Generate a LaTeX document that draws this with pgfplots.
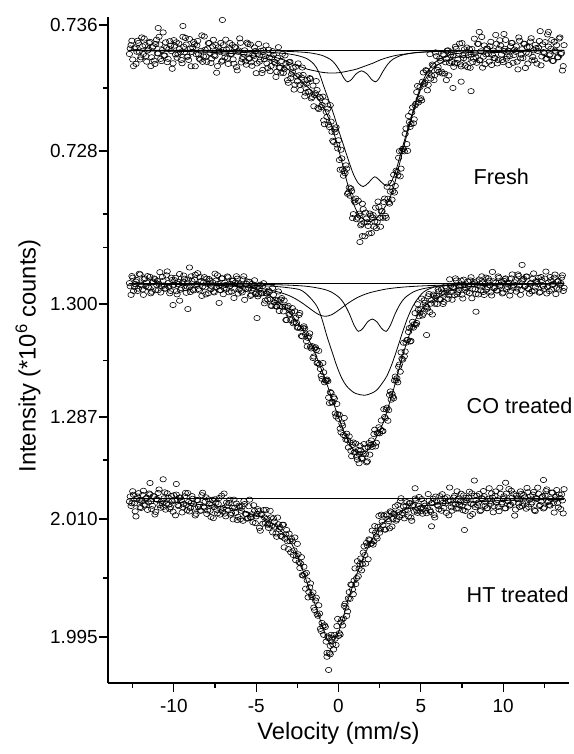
\documentclass[border=0pt]{standalone}
\usepackage{pgfplots}
\pgfplotsset{compat=1.18}
\usepackage{fontspec}
\setmainfont{Liberation Sans}
\pgfplotsset{
  mpanel/.style={
    scale only axis, width=345.75pt, anchor=south west,
    xmin=-14, xmax=14, clip=false,
    axis y line*=left,
    axis line style={-, line width=0.8pt},
    y axis line style={-},
    tick align=outside,
    major tick length=7pt, minor tick length=3.75pt,
    tick style={black, line width=0.8pt},
    yticklabel style={font=\fontsize{14.2}{16}\selectfont, inner xsep=0.6pt},
    xticklabel style={font=\fontsize{14.2}{16}\selectfont, yshift=-2pt},
    /pgf/number format/assume math mode=true,
  },
  datapts/.style={only marks, mark=o, mark size=2.0pt, mark options={xscale=1.2, line width=0.45pt, black}},
  fitline/.style={black, line width=0.6pt, smooth, tension=0.5, mark=none},
}
\begin{document}
\begin{tikzpicture}
\useasboundingbox (0,0) rectangle (430.5pt,565.5pt);
% ---------------- Fresh ----------------
\begin{axis}[mpanel, at={(81pt,385.5pt)}, height=167.25pt,
  ymin=0.722349, ymax=0.736508, axis x line=none, xtick=\empty,
  ytick={0.728,0.736}, yticklabels={0.728,0.736}, minor ytick={0.724,0.732}]
\addplot[datapts] table[row sep=\\]{x y\\
-12.7 0.73416\\ -12.6 0.73472\\ -12.5 0.73381\\ -12.4 0.73451\\ -12.3 0.73353\\ -12.2 0.73500\\ -12.1 0.73430\\ -12.0 0.73395\\ -11.9 0.73465\\ -11.8 0.73514\\
-11.7 0.73402\\ -11.6 0.73437\\ -11.5 0.73486\\ -11.4 0.73339\\ -11.3 0.73458\\ -11.2 0.73374\\ -11.1 0.73479\\ -11.0 0.73420\\ -10.9 0.73525\\ -10.8 0.73385\\
-10.7 0.73441\\ -10.6 0.73406\\ -10.5 0.73490\\ -10.4 0.73364\\ -10.3 0.73448\\ -10.2 0.73469\\ -10.1 0.73322\\ -10.0 0.73504\\ -9.9 0.73413\\ -9.8 0.73392\\
-9.7 0.73483\\ -9.6 0.73427\\ -9.5 0.73357\\ -9.4 0.73462\\ -9.3 0.73518\\ -9.2 0.73399\\ -9.1 0.73378\\ -9.0 0.73450\\ -8.9 0.73429\\ -8.8 0.73492\\
-8.7 0.73338\\ -8.6 0.73471\\ -8.5 0.73415\\ -8.4 0.73380\\ -8.3 0.73534\\ -8.2 0.73401\\ -8.1 0.73443\\ -8.0 0.73366\\ -7.9 0.73485\\ -7.8 0.73422\\
-7.7 0.73387\\ -7.6 0.73506\\ -7.5 0.73402\\ -7.4 0.73297\\ -7.3 0.73458\\ -7.2 0.73430\\ -7.1 0.73367\\ -7.0 0.73472\\ -6.9 0.73395\\ -6.8 0.73444\\
-6.7 0.73353\\ -6.6 0.73486\\ -6.5 0.73417\\ -6.4 0.73382\\ -6.3 0.73459\\ -6.2 0.73333\\ -6.1 0.73431\\ -6.0 0.73515\\ -5.9 0.73362\\ -5.8 0.73397\\
-5.7 0.73439\\ -5.6 0.73348\\ -5.5 0.73479\\ -5.4 0.73386\\ -5.3 0.73363\\ -5.2 0.73410\\ -5.1 0.73457\\ -5.0 0.73294\\ -4.9 0.73418\\ -4.8 0.73367\\
-4.7 0.73436\\ -4.6 0.73315\\ -4.5 0.73383\\ -4.4 0.73470\\ -4.3 0.73326\\ -4.2 0.73393\\ -4.1 0.73340\\ -4.0 0.73434\\ -3.9 0.73366\\ -3.8 0.73270\\
-3.7 0.73391\\ -3.6 0.73330\\ -3.5 0.73297\\ -3.4 0.73417\\ -3.3 0.73319\\ -3.2 0.73355\\ -3.1 0.73250\\ -3.0 0.73363\\ -2.9 0.73263\\ -2.8 0.73303\\
-2.7 0.73190\\ -2.6 0.73335\\ -2.5 0.73242\\ -2.4 0.73281\\ -2.3 0.73187\\ -2.2 0.73330\\ -2.1 0.73222\\ -2.0 0.73170\\ -1.9 0.73251\\ -1.8 0.73177\\
-1.7 0.73258\\ -1.6 0.73143\\ -1.5 0.73084\\ -1.4 0.73167\\ -1.3 0.73187\\ -1.2 0.73066\\ -1.1 0.73135\\ -1.0 0.73092\\ -0.9 0.72994\\ -0.8 0.73114\\
-0.7 0.73016\\ -0.6 0.72967\\ -0.5 0.73091\\ -0.4 0.72922\\ -0.3 0.72857\\ -0.2 0.72919\\ -0.1 0.72841\\ 0.0 0.72868\\ 0.1 0.72681\\ 0.2 0.72753\\
0.3 0.72643\\ 0.4 0.72659\\ 0.5 0.72688\\ 0.6 0.72536\\ 0.7 0.72516\\ 0.8 0.72545\\ 0.9 0.72399\\ 1.0 0.72474\\ 1.1 0.72367\\ 1.2 0.72484\\
1.3 0.72389\\ 1.4 0.72337\\ 1.5 0.72431\\ 1.6 0.72258\\ 1.7 0.72371\\ 1.8 0.72324\\ 1.9 0.72403\\ 2.0 0.72279\\ 2.1 0.72393\\ 2.2 0.72352\\
2.3 0.72310\\ 2.4 0.72479\\ 2.5 0.72375\\ 2.6 0.72417\\ 2.7 0.72376\\ 2.8 0.72498\\ 2.9 0.72375\\ 3.0 0.72497\\ 3.1 0.72466\\ 3.2 0.72597\\
3.3 0.72545\\ 3.4 0.72536\\ 3.5 0.72675\\ 3.6 0.72645\\ 3.7 0.72799\\ 3.8 0.72688\\ 3.9 0.72814\\ 4.0 0.72798\\ 4.1 0.72943\\ 4.2 0.72801\\
4.3 0.72984\\ 4.4 0.72971\\ 4.5 0.73077\\ 4.6 0.73001\\ 4.7 0.73100\\ 4.8 0.73213\\ 4.9 0.73129\\ 5.0 0.73135\\ 5.1 0.73240\\ 5.2 0.73224\\
5.3 0.73313\\ 5.4 0.73185\\ 5.5 0.73296\\ 5.6 0.73260\\ 5.7 0.73349\\ 5.8 0.73250\\ 5.9 0.73426\\ 6.0 0.73315\\ 6.1 0.73301\\ 6.2 0.73372\\
6.3 0.73292\\ 6.4 0.73408\\ 6.5 0.73363\\ 6.6 0.73437\\ 6.7 0.73280\\ 6.8 0.73410\\ 6.9 0.73365\\ 7.0 0.73334\\ 7.1 0.73462\\ 7.2 0.73359\\
7.3 0.73418\\ 7.4 0.73350\\ 7.5 0.73485\\ 7.6 0.73389\\ 7.7 0.73342\\ 7.8 0.73457\\ 7.9 0.73410\\ 8.0 0.73328\\ 8.1 0.73448\\ 8.2 0.73386\\
8.3 0.73422\\ 8.4 0.73360\\ 8.5 0.73480\\ 8.6 0.73376\\ 8.7 0.73524\\ 8.8 0.73399\\ 8.9 0.73351\\ 9.0 0.73450\\ 9.1 0.73415\\ 9.2 0.73465\\
9.3 0.73346\\ 9.4 0.73438\\ 9.5 0.73390\\ 9.6 0.73481\\ 9.7 0.73377\\ 9.8 0.73503\\ 9.9 0.73413\\ 10.0 0.73364\\ 10.1 0.73449\\ 10.2 0.73386\\
10.3 0.73437\\ 10.4 0.73402\\ 10.5 0.73486\\ 10.6 0.73360\\ 10.7 0.73444\\ 10.8 0.73465\\ 10.9 0.73318\\ 11.0 0.73500\\ 11.1 0.73411\\ 11.2 0.73390\\
11.3 0.73481\\ 11.4 0.73425\\ 11.5 0.73355\\ 11.6 0.73460\\ 11.7 0.73516\\ 11.8 0.73397\\ 11.9 0.73376\\ 12.0 0.73453\\ 12.1 0.73435\\ 12.2 0.73498\\
12.3 0.73344\\ 12.4 0.73477\\ 12.5 0.73421\\ 12.6 0.73386\\ 12.7 0.73540\\ 12.8 0.73407\\ 12.9 0.73449\\ 13.0 0.73372\\ 13.1 0.73493\\ 13.2 0.73430\\
13.3 0.73395\\ 13.4 0.73514\\ 13.5 0.73416\\ 13.6 0.73311\\ 13.7 0.73472\\
-7.05 0.73632\\ -10.95 0.73581\\ -9.45 0.73594\\ 8.55 0.73556\\ 10.05 0.73543\\ 12.75 0.73556\\ 1.3 0.72222\\ 1.45 0.72260\\
8.05 0.73180\\ 6.55 0.73250\\ 7.45 0.73240\\ 6.95 0.73200\\
-12.65 0.73451\\ -12.55 0.73500\\ -12.45 0.73339\\ -12.35 0.73458\\ -12.25 0.73430\\ -12.15 0.73486\\ -12.05 0.73381\\ -11.95 0.73521\\ -11.85 0.73416\\ -11.75 0.73472\\
-11.65 0.73367\\ -11.55 0.73444\\ -11.45 0.73493\\ -11.35 0.73395\\ -11.25 0.73465\\ -11.15 0.73353\\ -11.05 0.73507\\ -10.95 0.73420\\ -10.85 0.73476\\ -10.75 0.73371\\
-10.65 0.73553\\ -10.55 0.73406\\ -10.45 0.73455\\ -10.35 0.73385\\ -10.25 0.73497\\ -10.15 0.73434\\ -10.05 0.73357\\ -9.95 0.73469\\ -9.85 0.73490\\ -9.75 0.73413\\
-9.65 0.73448\\ -9.55 0.73378\\ -9.45 0.73525\\ -9.35 0.73427\\ -9.25 0.73476\\ -9.15 0.73399\\ -9.05 0.73511\\ -8.95 0.73338\\ -8.85 0.73457\\ -8.75 0.73478\\
-8.65 0.73415\\ -8.55 0.73499\\ -8.45 0.73387\\ -8.35 0.73436\\ -8.25 0.73366\\ -8.15 0.73527\\ -8.05 0.73401\\ -7.95 0.73450\\ -7.85 0.73485\\ -7.75 0.73359\\
-7.65 0.73464\\ -7.55 0.73408\\ -7.45 0.73472\\ -7.35 0.73339\\ -7.25 0.73437\\ -7.15 0.73486\\ -7.05 0.73374\\ -6.95 0.73423\\ -6.85 0.73507\\ -6.75 0.73388\\
-6.65 0.73451\\ -6.55 0.73416\\ -6.45 0.73473\\ -6.35 0.73354\\ -6.25 0.73459\\ -6.15 0.73312\\ -6.05 0.73438\\ -5.95 0.73487\\ -5.85 0.73383\\ -5.75 0.73418\\
-5.65 0.73369\\ -5.55 0.73488\\
-5.45 0.73387\\ -5.35 0.73476\\ -5.25 0.73341\\ -5.15 0.73402\\ -5.05 0.73435\\ -4.95 0.73356\\ -4.85 0.73480\\ -4.75 0.73381\\ -4.65 0.73295\\ -4.55 0.73440\\
-4.45 0.73402\\ -4.35 0.73356\\ -4.25 0.73444\\ -4.15 0.73307\\ -4.05 0.73394\\ -3.95 0.73411\\ -3.85 0.73357\\ -3.75 0.73303\\ -3.65 0.73459\\ -3.55 0.73328\\
-3.45 0.73371\\ -3.35 0.73295\\ -3.25 0.73407\\ -3.15 0.73331\\ -3.05 0.73233\\ -2.95 0.73366\\ -2.85 0.73287\\ -2.75 0.73327\\ -2.65 0.73221\\ -2.55 0.73275\\
-2.45 0.73356\\ -2.35 0.73220\\ -2.25 0.73266\\ -2.15 0.73283\\ -2.05 0.73147\\ -1.95 0.73228\\ -1.85 0.73176\\ -1.75 0.73263\\ -1.65 0.73134\\ -1.55 0.73215\\
-1.45 0.73154\\ -1.35 0.73244\\ -1.25 0.73074\\ -1.15 0.73143\\ -1.05 0.73079\\ -0.95 0.73145\\ -0.85 0.72970\\ -0.75 0.73048\\ -0.65 0.73069\\ -0.55 0.72952\\
-0.45 0.72986\\ -0.35 0.72865\\ -0.25 0.72937\\ -0.15 0.72950\\ -0.05 0.72816\\ 0.05 0.72743\\ 0.15 0.72808\\ 0.25 0.72684\\ 0.35 0.72672\\ 0.45 0.72709\\
0.55 0.72528\\ 0.65 0.72568\\ 0.75 0.72562\\ 0.85 0.72374\\ 0.95 0.72486\\ 1.05 0.72498\\ 1.15 0.72377\\ 1.25 0.72402\\ 1.35 0.72328\\ 1.45 0.72465\\
1.55 0.72345\\ 1.65 0.72409\\ 1.75 0.72348\\ 1.85 0.72276\\ 1.95 0.72390\\ 2.05 0.72378\\ 2.15 0.72320\\ 2.25 0.72440\\ 2.35 0.72349\\ 2.45 0.72445\\
2.55 0.72319\\ 2.65 0.72418\\ 2.75 0.72476\\ 2.85 0.72388\\ 2.95 0.72573\\ 3.05 0.72475\\ 3.15 0.72542\\ 3.25 0.72491\\ 3.35 0.72649\\ 3.45 0.72578\\
3.55 0.72667\\ 3.65 0.72757\\ 3.75 0.72639\\ 3.85 0.72800\\ 3.95 0.72813\\ 4.05 0.72909\\ 4.15 0.72844\\ 4.25 0.73022\\ 4.35 0.72953\\ 4.45 0.73045\\
4.55 0.72976\\ 4.65 0.73089\\ 4.75 0.73174\\ 4.85 0.73108\\ 4.95 0.73206\\ 5.05 0.73121\\ 5.15 0.73299\\ 5.25 0.73234\\ 5.35 0.73309\\ 5.45 0.73220\\
5.55 0.73415\\ 5.65 0.73280\\ 5.75 0.73342\\ 5.85 0.73282\\ 5.95 0.73402\\
6.05 0.73333\\ 6.15 0.73389\\ 6.25 0.73304\\ 6.35 0.73413\\ 6.45 0.73291\\ 6.55 0.73386\\ 6.65 0.73439\\ 6.75 0.73359\\ 6.85 0.73426\\ 6.95 0.73409\\
7.05 0.73356\\ 7.15 0.73449\\ 7.25 0.73381\\ 7.35 0.73482\\ 7.45 0.73337\\ 7.55 0.73409\\ 7.65 0.73446\\ 7.75 0.73379\\ 7.85 0.73332\\ 7.95 0.73446\\
8.05 0.73413\\ 8.15 0.73365\\ 8.25 0.73513\\ 8.35 0.73395\\ 8.45 0.73480\\ 8.55 0.73376\\ 8.65 0.73433\\ 8.75 0.73329\\ 8.85 0.73470\\ 8.95 0.73414\\
9.05 0.73450\\ 9.15 0.73367\\ 9.25 0.73493\\ 9.35 0.73410\\ 9.45 0.73390\\ 9.55 0.73537\\ 9.65 0.73356\\ 9.75 0.73447\\ 9.85 0.73469\\ 9.95 0.73378\\
10.05 0.73435\\ 10.15 0.73505\\ 10.25 0.73400\\ 10.35 0.73346\\ 10.45 0.73465\\ 10.55 0.73486\\ 10.65 0.73409\\ 10.75 0.73430\\ 10.85 0.73367\\ 10.95 0.73521\\
11.05 0.73388\\ 11.15 0.73446\\ 11.25 0.73481\\ 11.35 0.73327\\ 11.45 0.73460\\ 11.55 0.73418\\ 11.65 0.73495\\ 11.75 0.73376\\ 11.85 0.73439\\ 11.95 0.73474\\
12.05 0.73355\\ 12.15 0.73456\\ 12.25 0.73561\\ 12.35 0.73400\\ 12.45 0.73428\\ 12.55 0.73491\\ 12.65 0.73386\\ 12.75 0.73463\\ 12.85 0.73414\\ 12.95 0.73505\\
13.05 0.73372\\ 13.15 0.73437\\ 13.25 0.73472\\ 13.35 0.73395\\ 13.45 0.73521\\ 13.55 0.73423\\ 13.65 0.73339\\
};
\addplot[black, line width=0.6pt] coordinates {(-12.7,0.73441) (13.7,0.73441)};
% singlet
\addplot[fitline] coordinates {(-12.7,0.73438) (-8.4,0.73435) (-6.4,0.73430) (-5.4,0.73423) (-4.4,0.73409) (-3.4,0.73381) (-2.9,0.73358) (-2.4,0.73339) (-1.9,0.73320) (-1.4,0.73308) (-0.9,0.73298) (-0.4,0.73295) (0.1,0.73298) (0.6,0.73308) (1.1,0.73320) (1.6,0.73339) (2.1,0.73358) (2.6,0.73381) (3.1,0.73397) (3.6,0.73409) (4.6,0.73423) (5.6,0.73430) (7.6,0.73435) (11.6,0.73438) (13.7,0.73439)};
% small doublet
\addplot[fitline] coordinates {(-12.7,0.73440) (-5,0.73438) (-3,0.73432) (-2,0.73426) (-1.5,0.73419) (-1,0.73407) (-0.5,0.73382) (-0.2,0.73352) (0.1,0.73305) (0.35,0.73259) (0.55,0.73239) (0.8,0.73255) (1.05,0.73288) (1.4,0.73309) (1.75,0.73288) (2.0,0.73255) (2.25,0.73239) (2.45,0.73259) (2.7,0.73305) (3.0,0.73352) (3.3,0.73382) (3.8,0.73407) (4.3,0.73419) (4.8,0.73426) (5.8,0.73432) (7.8,0.73438) (13.7,0.73440)};
% big doublet
\addplot[fitline] coordinates {(-12.7,0.73439) (-8,0.73436) (-5,0.73431) (-3,0.73416) (-2,0.73390) (-1.5,0.73352) (-1.2,0.73301) (-0.9,0.73212) (-0.6,0.73124) (-0.3,0.73035) (0,0.72933) (0.3,0.72838) (0.6,0.72743) (0.9,0.72654) (1.2,0.72596) (1.5,0.72574) (1.8,0.72596) (2.2,0.72636) (2.6,0.72603) (2.93,0.72577) (3.2,0.72603) (3.5,0.72679) (3.8,0.72793) (4.1,0.72901) (4.4,0.73009) (4.7,0.73117) (5.0,0.73212) (5.3,0.73282) (5.7,0.73346) (6.2,0.73387) (7,0.73416) (8.5,0.73428) (11,0.73435) (13.7,0.73438)};
% total
\addplot[fitline] coordinates {(-12.7,0.73438) (-11,0.73435) (-9,0.73431) (-7.5,0.73425) (-6.5,0.73419) (-5.5,0.73409) (-4.5,0.73390) (-4.0,0.73371) (-3.5,0.73346) (-3.0,0.73314) (-2.5,0.73270) (-2.0,0.73219) (-1.5,0.73168) (-1.0,0.73092) (-0.6,0.73009) (-0.3,0.72920) (0,0.72812) (0.3,0.72692) (0.6,0.72571) (0.9,0.72469) (1.2,0.72400) (1.5,0.72368) (1.8,0.72352) (2.1,0.72358) (2.4,0.72381) (2.7,0.72425) (3.0,0.72476) (3.3,0.72552) (3.6,0.72673) (3.9,0.72800) (4.2,0.72920) (4.5,0.73028) (4.8,0.73136) (5.1,0.73219) (5.4,0.73276) (5.8,0.73327) (6.2,0.73358) (7.0,0.73390) (8.0,0.73412) (9.0,0.73422) (10.5,0.73430) (12,0.73435) (13.7,0.73438)};
\end{axis}
% ---------------- CO treated ----------------
\begin{axis}[mpanel, at={(81pt,224.25pt)}, height=161.25pt,
  ymin=1.282628, ymax=1.307363, axis x line=none, xtick=\empty,
  ytick={1.287,1.300}, yticklabels={1.287,1.300}, minor ytick={1.2935,1.3065}]
\addplot[datapts] table[row sep=\\]{x y\\
-12.7 1.30240\\ -12.6 1.30105\\ -12.5 1.30303\\ -12.4 1.30195\\ -12.3 1.30258\\ -12.2 1.30150\\ -12.1 1.30348\\ -12.0 1.30222\\ -11.9 1.30168\\ -11.8 1.30285\\
-11.7 1.30204\\ -11.6 1.30321\\ -11.5 1.30186\\ -11.4 1.30123\\ -11.3 1.30249\\ -11.2 1.30294\\ -11.1 1.30159\\ -11.0 1.30267\\ -10.9 1.30231\\ -10.8 1.30132\\
-10.7 1.30312\\ -10.6 1.30213\\ -10.5 1.30177\\ -10.4 1.30375\\ -10.3 1.30195\\ -10.2 1.30150\\ -10.1 1.30276\\ -10.0 1.30222\\ -9.9 1.30300\\ -9.8 1.30111\\
-9.7 1.30255\\ -9.6 1.30165\\ -9.5 1.30237\\ -9.4 1.30327\\ -9.3 1.30183\\ -9.2 1.30201\\ -9.1 1.30282\\ -9.0 1.30138\\ -8.9 1.30264\\ -8.8 1.30156\\
-8.7 1.30336\\ -8.6 1.30228\\ -8.5 1.30174\\ -8.4 1.30309\\ -8.3 1.30093\\ -8.2 1.30246\\ -8.1 1.30192\\ -8.0 1.30291\\ -7.9 1.30124\\ -7.8 1.30268\\
-7.7 1.30205\\ -7.6 1.30142\\ -7.5 1.30349\\ -7.4 1.30196\\ -7.3 1.30232\\ -7.2 1.30160\\ -7.1 1.30295\\ -7.0 1.30113\\ -6.9 1.30247\\ -6.8 1.30174\\
-6.7 1.30307\\ -6.6 1.30207\\ -6.5 1.30143\\ -6.4 1.30268\\ -6.3 1.30177\\ -6.2 1.30319\\ -6.1 1.30120\\ -6.0 1.30227\\ -5.9 1.30152\\ -5.8 1.30284\\
-5.7 1.30048\\ -5.6 1.30234\\ -5.5 1.30169\\ -5.4 1.30256\\ -5.3 1.30107\\ -5.2 1.30181\\ -5.1 1.30273\\ -5.0 1.30122\\ -4.9 1.30088\\ -4.8 1.30180\\
-4.7 1.30128\\ -4.6 1.30208\\ -4.5 1.30008\\ -4.4 1.30124\\ -4.3 1.30051\\ -4.2 1.30139\\ -4.1 1.29983\\ -4.0 1.30185\\ -3.9 1.30017\\ -3.8 1.29976\\
-3.7 1.30043\\ -3.6 1.29920\\ -3.5 1.30050\\ -3.4 1.29969\\ -3.3 1.30041\\ -3.2 1.29816\\ -3.1 1.29960\\ -3.0 1.29879\\ -2.9 1.29814\\ -2.8 1.29952\\
-2.7 1.29793\\ -2.6 1.29841\\ -2.5 1.29727\\ -2.4 1.29874\\ -2.3 1.29719\\ -2.2 1.29627\\ -2.1 1.29743\\ -2.0 1.29651\\ -1.9 1.29512\\ -1.8 1.29627\\
-1.7 1.29508\\ -1.6 1.29515\\ -1.5 1.29396\\ -1.4 1.29502\\ -1.3 1.29320\\ -1.2 1.29461\\ -1.1 1.29252\\ -1.0 1.29139\\ -0.9 1.29214\\ -0.8 1.29119\\
-0.7 1.29131\\ -0.6 1.28923\\ -0.5 1.28986\\ -0.4 1.28868\\ -0.3 1.28930\\ -0.2 1.28741\\ -0.1 1.28850\\ 0.0 1.28679\\ 0.1 1.28566\\ 0.2 1.28625\\
0.3 1.28494\\ 0.4 1.28479\\ 0.5 1.28508\\ 0.6 1.28349\\ 0.7 1.28407\\ 0.8 1.28250\\ 0.9 1.28407\\ 1.0 1.28301\\ 1.1 1.28243\\ 1.2 1.28319\\
1.3 1.28368\\ 1.4 1.28226\\ 1.5 1.28277\\ 1.6 1.28346\\ 1.7 1.28179\\ 1.8 1.28353\\ 1.9 1.28267\\ 2.0 1.28430\\ 2.1 1.28389\\ 2.2 1.28554\\
2.3 1.28404\\ 2.4 1.28516\\ 2.5 1.28512\\ 2.6 1.28660\\ 2.7 1.28538\\ 2.8 1.28700\\ 2.9 1.28786\\ 3.0 1.28657\\ 3.1 1.28954\\ 3.2 1.28899\\
3.3 1.28935\\ 3.4 1.29120\\ 3.5 1.29119\\ 3.6 1.29099\\ 3.7 1.29303\\ 3.8 1.29444\\ 3.9 1.29360\\ 4.0 1.29397\\ 4.1 1.29555\\ 4.2 1.29587\\
4.3 1.29723\\ 4.4 1.29575\\ 4.5 1.29795\\ 4.6 1.29767\\ 4.7 1.29761\\ 4.8 1.29998\\ 4.9 1.29859\\ 5.0 1.29940\\ 5.1 1.29868\\ 5.2 1.30042\\
5.3 1.29976\\ 5.4 1.29946\\ 5.5 1.30115\\ 5.6 1.30004\\ 5.7 1.29879\\ 5.8 1.30096\\ 5.9 1.30071\\ 6.0 1.30000\\ 6.1 1.30145\\ 6.2 1.30056\\
6.3 1.30130\\ 6.4 1.30024\\ 6.5 1.30205\\ 6.6 1.30135\\ 6.7 1.30101\\ 6.8 1.30206\\ 6.9 1.30049\\ 7.0 1.30181\\ 7.1 1.30295\\ 7.2 1.30112\\
7.3 1.30162\\ 7.4 1.30222\\ 7.5 1.30107\\ 7.6 1.30280\\ 7.7 1.30165\\ 7.8 1.30140\\ 7.9 1.30206\\ 8.0 1.30271\\ 8.1 1.30066\\ 8.2 1.30230\\
8.3 1.30169\\ 8.4 1.30261\\ 8.5 1.30110\\ 8.6 1.30201\\ 8.7 1.30318\\ 8.8 1.30139\\ 8.9 1.30230\\ 9.0 1.30168\\ 9.1 1.30295\\ 9.2 1.30214\\
9.3 1.30098\\ 9.4 1.30261\\ 9.5 1.30190\\ 9.6 1.30155\\ 9.7 1.30317\\ 9.8 1.30201\\ 9.9 1.30256\\ 10.0 1.30131\\ 10.1 1.30286\\ 10.2 1.30169\\
10.3 1.30232\\ 10.4 1.30097\\ 10.5 1.30295\\ 10.6 1.30187\\ 10.7 1.30250\\ 10.8 1.30142\\ 10.9 1.30340\\ 11.0 1.30214\\ 11.1 1.30163\\ 11.2 1.30280\\
11.3 1.30199\\ 11.4 1.30316\\ 11.5 1.30181\\ 11.6 1.30118\\ 11.7 1.30244\\ 11.8 1.30289\\ 11.9 1.30154\\ 12.0 1.30262\\ 12.1 1.30229\\ 12.2 1.30130\\
12.3 1.30310\\ 12.4 1.30211\\ 12.5 1.30175\\ 12.6 1.30373\\ 12.7 1.30193\\ 12.8 1.30148\\ 12.9 1.30274\\ 13.0 1.30220\\ 13.1 1.30303\\ 13.2 1.30114\\
13.3 1.30258\\ 13.4 1.30168\\ 13.5 1.30240\\ 13.6 1.30330\\ 13.7 1.30186\\
1.25 1.28168\\ -9.05 1.30420\\ 11.15 1.30450\\ -9.15 1.29942\\ -4.95 1.29838\\ -7.25 1.30012\\ -10.05 1.29988\\ -9.65 1.30038\\ 5.35 1.29643\\ 8.35 1.29911\\
-12.65 1.30204\\ -12.55 1.30321\\ -12.45 1.30150\\ -12.35 1.30231\\ -12.25 1.30276\\ -12.15 1.30177\\ -12.05 1.30339\\ -11.95 1.30213\\ -11.85 1.30105\\ -11.75 1.30294\\
-11.65 1.30249\\ -11.55 1.30195\\ -11.45 1.30312\\ -11.35 1.30141\\ -11.25 1.30258\\ -11.15 1.30285\\ -11.05 1.30222\\ -10.95 1.30159\\ -10.85 1.30366\\ -10.75 1.30204\\
-10.65 1.30267\\ -10.55 1.30177\\ -10.45 1.30330\\ -10.35 1.30240\\ -10.25 1.30123\\ -10.15 1.30303\\ -10.05 1.30213\\ -9.95 1.30273\\ -9.85 1.30147\\ -9.75 1.30228\\
-9.65 1.30345\\ -9.55 1.30183\\ -9.45 1.30255\\ -9.35 1.30291\\ -9.25 1.30129\\ -9.15 1.30246\\ -9.05 1.30192\\ -8.95 1.30318\\ -8.85 1.30165\\ -8.75 1.30282\\
-8.65 1.30219\\ -8.55 1.30354\\ -8.45 1.30156\\ -8.35 1.30264\\ -8.25 1.30201\\ -8.15 1.30309\\ -8.05 1.30111\\ -7.95 1.30232\\ -7.85 1.30286\\ -7.75 1.30169\\
-7.65 1.30250\\ -7.55 1.30133\\ -7.45 1.30268\\ -7.35 1.30331\\ -7.25 1.30205\\ -7.15 1.30160\\ -7.05 1.30295\\ -6.95 1.30184\\ -6.85 1.30219\\ -6.75 1.30317\\
-6.65 1.30135\\ -6.55 1.30233\\ -6.45 1.30268\\ -6.35 1.30069\\ -6.25 1.30248\\ -6.15 1.30291\\ -6.05 1.30164\\ -5.95 1.30216\\ -5.85 1.30133\\ -5.75 1.30319\\
-5.65 1.30172\\ -5.55 1.30260\\ -5.45 1.30185\\ -5.35 1.30093\\ -5.25 1.30230\\ -5.15 1.30205\\ -5.05 1.30117\\
-4.95 1.30191\\ -4.85 1.30112\\ -4.75 1.30222\\ -4.65 1.30123\\ -4.55 1.30239\\ -4.45 1.30039\\ -4.35 1.30119\\ -4.25 1.30154\\ -4.15 1.30052\\ -4.05 1.29976\\
-3.95 1.30106\\ -3.85 1.30046\\ -3.75 1.29969\\ -3.65 1.30144\\ -3.55 1.29976\\ -3.45 1.30068\\ -3.35 1.29915\\ -3.25 1.29969\\ -3.15 1.29816\\ -3.05 1.29978\\
-2.95 1.29887\\ -2.85 1.29910\\ -2.75 1.29778\\ -2.65 1.29916\\ -2.55 1.29784\\ -2.45 1.29733\\ -2.35 1.29896\\ -2.25 1.29633\\ -2.15 1.29721\\ -2.05 1.29720\\
-1.95 1.29573\\ -1.85 1.29610\\ -1.75 1.29662\\ -1.65 1.29489\\ -1.55 1.29379\\ -1.45 1.29490\\ -1.35 1.29470\\ -1.25 1.29323\\ -1.15 1.29303\\ -1.05 1.29173\\
-0.95 1.29321\\ -0.85 1.29099\\ -0.75 1.29121\\ -0.65 1.29113\\ -0.55 1.28860\\ -0.45 1.28977\\ -0.35 1.28868\\ -0.25 1.28912\\ -0.15 1.28706\\ -0.05 1.28733\\
0.05 1.28726\\ 0.15 1.28524\\ 0.25 1.28600\\ 0.35 1.28689\\ 0.45 1.28440\\ 0.55 1.28433\\ 0.65 1.28477\\ 0.75 1.28311\\ 0.85 1.28378\\ 0.95 1.28291\\
1.05 1.28394\\ 1.15 1.28209\\ 1.25 1.28276\\ 1.35 1.28315\\ 1.45 1.28220\\ 1.55 1.28388\\ 1.65 1.28276\\ 1.75 1.28190\\ 1.85 1.28400\\ 1.95 1.28380\\
2.05 1.28356\\ 2.15 1.28503\\ 2.25 1.28362\\ 2.35 1.28514\\ 2.45 1.28582\\ 2.55 1.28559\\ 2.65 1.28536\\ 2.75 1.28790\\ 2.85 1.28685\\ 2.95 1.28807\\
3.05 1.28779\\ 3.15 1.28994\\ 3.25 1.28967\\ 3.35 1.28915\\ 3.45 1.29165\\ 3.55 1.29145\\ 3.65 1.29278\\ 3.75 1.29221\\ 3.85 1.29371\\ 3.95 1.29554\\
4.05 1.29454\\ 4.15 1.29585\\ 4.25 1.29678\\ 4.35 1.29568\\ 4.45 1.29735\\ 4.55 1.29727\\ 4.65 1.29895\\ 4.75 1.29781\\ 4.85 1.29933\\ 4.95 1.29900\\
5.05 1.30062\\ 5.15 1.29888\\ 5.25 1.30014\\ 5.35 1.29966\\ 5.45 1.30089\\ 5.55 1.29907\\ 5.65 1.30045\\ 5.75 1.30109\\ 5.85 1.30003\\ 5.95 1.30094\\
6.05 1.30167\\ 6.15 1.30051\\ 6.25 1.30169\\ 6.35 1.30000\\ 6.45 1.30119\\ 6.55 1.30184\\ 6.65 1.30060\\ 6.75 1.30284\\ 6.85 1.30137\\ 6.95 1.30196\\
7.05 1.30103\\ 7.15 1.30271\\ 7.25 1.30132\\ 7.35 1.30201\\ 7.45 1.30268\\ 7.55 1.30063\\ 7.65 1.30218\\ 7.75 1.30184\\ 7.85 1.30259\\ 7.95 1.30126\\
8.05 1.30308\\ 8.15 1.30175\\ 8.25 1.30249\\ 8.35 1.30116\\ 8.45 1.30217\\ 8.55 1.30282\\ 8.65 1.30157\\ 8.75 1.30248\\ 8.85 1.30104\\ 8.95 1.30303\\
9.05 1.30196\\ 9.15 1.30269\\ 9.25 1.30134\\ 9.35 1.30369\\ 9.45 1.30181\\ 9.55 1.30245\\ 9.65 1.30155\\ 9.75 1.30300\\ 9.85 1.30220\\ 9.95 1.30121\\
10.05 1.30266\\ 10.15 1.30295\\ 10.25 1.30196\\ 10.35 1.30241\\ 10.45 1.30151\\ 10.55 1.30340\\ 10.65 1.30214\\ 10.75 1.30277\\ 10.85 1.30178\\ 10.95 1.30322\\
11.05 1.30106\\ 11.15 1.30262\\ 11.25 1.30289\\ 11.35 1.30208\\ 11.45 1.30316\\ 11.55 1.30172\\ 11.65 1.30235\\ 11.75 1.30145\\ 11.85 1.30352\\ 11.95 1.30190\\
12.05 1.30253\\ 12.15 1.30301\\ 12.25 1.30139\\ 12.35 1.30274\\ 12.45 1.30202\\ 12.55 1.30292\\ 12.65 1.30121\\ 12.75 1.30247\\ 12.85 1.30310\\ 12.95 1.30166\\
13.05 1.30229\\ 13.15 1.30339\\ 13.25 1.30186\\ 13.35 1.30267\\ 13.45 1.30222\\ 13.55 1.30303\\ 13.65 1.30150\\
};
\addplot[black, line width=0.6pt] coordinates {(-12.7,1.30238) (13.7,1.30238)};
% singlet
\addplot[fitline] coordinates {(-12.7,1.30230) (-9,1.30222) (-7,1.30211) (-5.5,1.30194) (-4.5,1.30172) (-3.5,1.30130) (-2.8,1.30079) (-2.2,1.30011) (-1.6,1.29928) (-1.2,1.29878) (-0.8,1.29858) (-0.4,1.29878) (0,1.29928) (0.6,1.30011) (1.2,1.30079) (1.9,1.30130) (2.9,1.30172) (3.9,1.30194) (5.4,1.30211) (7.4,1.30222) (11.1,1.30230) (13.7,1.30233)};
% doublet
\addplot[fitline] coordinates {(-12.7,1.30236) (-6,1.30230) (-3.45,1.30220) (-1.95,1.30204) (-0.95,1.30172) (-0.45,1.30139) (0.05,1.30074) (0.35,1.30001) (0.65,1.29892) (0.95,1.29755) (1.21,1.29685) (1.5,1.29723) (1.75,1.29791) (2.05,1.29827) (2.35,1.29791) (2.6,1.29723) (2.89,1.29685) (3.15,1.29755) (3.45,1.29892) (3.75,1.30001) (4.05,1.30074) (4.55,1.30139) (5.05,1.30172) (6.05,1.30204) (7.55,1.30220) (10.05,1.30230) (13.7,1.30236)};
% big component
\addplot[fitline] coordinates {(-12.7,1.30235) (-8,1.30229) (-6,1.30221) (-4,1.30204) (-3,1.30186) (-2.3,1.30161) (-1.8,1.30088) (-1.31,1.29974) (-1.0,1.29824) (-0.7,1.29628) (-0.4,1.29456) (-0.1,1.29284) (0.2,1.29146) (0.5,1.29054) (0.9,1.28985) (1.2,1.28962) (1.6,1.28950) (2.0,1.28973) (2.33,1.29011) (2.65,1.29088) (2.93,1.29169) (3.24,1.29307) (3.54,1.29471) (3.85,1.29652) (4.15,1.29816) (4.45,1.29950) (4.75,1.30046) (5.05,1.30117) (5.36,1.30161) (6,1.30204) (7,1.30221) (9,1.30230) (13.7,1.30235)};
% total
\addplot[fitline] coordinates {(-12.7,1.30232) (-9,1.30229) (-7,1.30221) (-6,1.30209) (-5.35,1.30192) (-4.7,1.30146) (-4.14,1.30088) (-3.5,1.29996) (-2.93,1.29893) (-2.4,1.29766) (-1.92,1.29628) (-1.5,1.29468) (-1.11,1.29284) (-0.7,1.29077) (-0.3,1.28858) (0,1.28697) (0.3,1.28548) (0.6,1.28421) (0.91,1.28323) (1.32,1.28266) (1.6,1.28283) (1.92,1.28352) (2.3,1.28467) (2.73,1.28640) (3.0,1.28801) (3.33,1.29008) (3.64,1.29226) (3.94,1.29433) (4.25,1.29617) (4.55,1.29766) (4.85,1.29882) (5.15,1.29962) (5.6,1.30031) (6.16,1.30088) (6.7,1.30146) (7.4,1.30186) (8.5,1.30209) (10,1.30221) (12,1.30229) (13.7,1.30232)};
\end{axis}
% ---------------- HT treated ----------------
\begin{axis}[mpanel, at={(81pt,53.25pt)}, height=171pt,
  ymin=1.989153, ymax=2.018135,
  axis x line*=bottom, x axis line style={-},
  xtick={-10,-5,0,5,10}, xticklabels={-10,-5,0,5,10},
  minor xtick={-12.5,-7.5,-2.5,2.5,7.5,12.5},
  ytick={1.995,2.010}, yticklabels={1.995,2.010}, minor ytick={2.0025,2.0175}]
\addplot[datapts] table[row sep=\\]{x y\\
-12.7 2.01222\\ -12.6 2.01166\\ -12.5 2.01353\\ -12.4 2.01198\\ -12.3 2.01032\\ -12.2 2.01285\\ -12.1 2.01240\\ -12.0 2.01140\\ -11.9 2.01305\\ -11.8 2.01183\\
-11.7 2.01259\\ -11.6 2.01116\\ -11.5 2.01324\\ -11.4 2.01224\\ -11.3 2.01168\\ -11.2 2.01289\\ -11.1 2.01090\\ -11.0 2.01243\\ -10.9 2.01375\\ -10.8 2.01143\\
-10.7 2.01197\\ -10.6 2.01263\\ -10.5 2.01119\\ -10.4 2.01327\\ -10.3 2.01183\\ -10.2 2.01150\\ -10.1 2.01226\\ -10.0 2.01302\\ -9.9 2.01047\\ -9.8 2.01243\\
-9.7 2.01164\\ -9.6 2.01272\\ -9.5 2.01083\\ -9.4 2.01191\\ -9.3 2.01332\\ -9.2 2.01110\\ -9.1 2.01218\\ -9.0 2.01139\\ -8.9 2.01291\\ -8.8 2.01190\\
-8.7 2.01045\\ -8.6 2.01241\\ -8.5 2.01152\\ -8.4 2.01106\\ -8.3 2.01302\\ -8.2 2.01157\\ -8.1 2.01221\\ -8.0 2.01065\\ -7.9 2.01250\\ -7.8 2.01104\\
-7.7 2.01179\\ -7.6 2.01011\\ -7.5 2.01251\\ -7.4 2.01116\\ -7.3 2.01191\\ -7.2 2.01056\\ -7.1 2.01296\\ -7.0 2.01139\\ -6.9 2.01069\\ -6.8 2.01208\\
-6.7 2.01106\\ -6.6 2.01245\\ -6.5 2.01076\\ -6.4 2.00995\\ -6.3 2.01145\\ -6.2 2.01197\\ -6.1 2.01028\\ -6.0 2.01156\\ -5.9 2.01105\\ -5.8 2.00977\\
-5.7 2.01190\\ -5.6 2.01062\\ -5.5 2.01011\\ -5.4 2.01246\\ -5.3 2.01020\\ -5.2 2.00958\\ -5.1 2.01105\\ -5.0 2.01033\\ -4.9 2.01125\\ -4.8 2.00887\\
-4.7 2.01056\\ -4.6 2.00940\\ -4.5 2.01021\\ -4.4 2.01117\\ -4.3 2.00927\\ -4.2 2.00935\\ -4.1 2.01020\\ -4.0 2.00830\\ -3.9 2.00966\\ -3.8 2.00816\\
-3.7 2.01018\\ -3.6 2.00869\\ -3.5 2.00785\\ -3.4 2.00927\\ -3.3 2.00640\\ -3.2 2.00805\\ -3.1 2.00716\\ -3.0 2.00814\\ -2.9 2.00578\\ -2.8 2.00716\\
-2.7 2.00601\\ -2.6 2.00477\\ -2.5 2.00684\\ -2.4 2.00450\\ -2.3 2.00435\\ -2.2 2.00287\\ -2.1 2.00393\\ -2.0 2.00114\\ -1.9 2.00219\\ -1.8 2.00072\\
-1.7 2.00182\\ -1.6 2.00006\\ -1.5 1.99874\\ -1.4 1.99964\\ -1.3 1.99791\\ -1.2 1.99903\\ -1.1 1.99604\\ -1.0 1.99679\\ -0.9 1.99527\\ -0.8 1.99628\\
-0.7 1.99298\\ -0.6 1.99485\\ -0.5 1.99387\\ -0.4 1.99493\\ -0.3 1.99342\\ -0.2 1.99479\\ -0.1 1.99638\\ 0.0 1.99513\\ 0.1 1.99530\\ 0.2 1.99721\\
0.3 1.99736\\ 0.4 1.99923\\ 0.5 1.99768\\ 0.6 1.99992\\ 0.7 1.99985\\ 0.8 2.00163\\ 0.9 2.00044\\ 1.0 2.00372\\ 1.1 2.00248\\ 1.2 2.00272\\
1.3 2.00428\\ 1.4 2.00347\\ 1.5 2.00574\\ 1.6 2.00542\\ 1.7 2.00696\\ 1.8 2.00488\\ 1.9 2.00730\\ 2.0 2.00691\\ 2.1 2.00674\\ 2.2 2.00910\\
2.3 2.00779\\ 2.4 2.00901\\ 2.5 2.00825\\ 2.6 2.01055\\ 2.7 2.00923\\ 2.8 2.00867\\ 2.9 2.01059\\ 3.0 2.00998\\ 3.1 2.00881\\ 3.2 2.01084\\
3.3 2.00998\\ 3.4 2.01066\\ 3.5 2.00979\\ 3.6 2.01179\\ 3.7 2.01024\\ 3.8 2.01264\\ 3.9 2.01076\\ 4.0 2.01008\\ 4.1 2.01167\\ 4.2 2.01117\\
4.3 2.01200\\ 4.4 2.01018\\ 4.5 2.01166\\ 4.6 2.01093\\ 4.7 2.01240\\ 4.8 2.01078\\ 4.9 2.01280\\ 5.0 2.01141\\ 5.1 2.01067\\ 5.2 2.01201\\
5.3 2.01105\\ 5.4 2.01140\\ 5.5 2.01231\\ 5.6 2.01090\\ 5.7 2.01203\\ 5.8 2.01051\\ 5.9 2.01285\\ 6.0 2.01177\\ 6.1 2.01124\\ 6.2 2.01236\\
6.3 2.01315\\ 6.4 2.01141\\ 6.5 2.01198\\ 6.6 2.01276\\ 6.7 2.01047\\ 6.8 2.01236\\ 6.9 2.01106\\ 7.0 2.01273\\ 7.1 2.01186\\ 7.2 2.01352\\
7.3 2.01133\\ 7.4 2.01221\\ 7.5 2.01167\\ 7.6 2.01300\\ 7.7 2.01103\\ 7.8 2.01236\\ 7.9 2.01269\\ 8.0 2.01039\\ 8.1 2.01326\\ 8.2 2.01184\\
8.3 2.01152\\ 8.4 2.01296\\ 8.5 2.01209\\ 8.6 2.01100\\ 8.7 2.01266\\ 8.8 2.01355\\ 8.9 2.01168\\ 9.0 2.01136\\ 9.1 2.01258\\ 9.2 2.01226\\
9.3 2.01326\\ 9.4 2.01085\\ 9.5 2.01295\\ 9.6 2.01208\\ 9.7 2.01154\\ 9.8 2.01397\\ 9.9 2.01189\\ 10.0 2.01255\\ 10.1 2.01135\\ 10.2 2.01323\\
10.3 2.01225\\ 10.4 2.01171\\ 10.5 2.01359\\ 10.6 2.01206\\ 10.7 2.01043\\ 10.8 2.01296\\ 10.9 2.01252\\ 11.0 2.01153\\ 11.1 2.01318\\ 11.2 2.01197\\
11.3 2.01274\\ 11.4 2.01131\\ 11.5 2.01340\\ 11.6 2.01244\\ 11.7 2.01189\\ 11.8 2.01310\\ 11.9 2.01112\\ 12.0 2.01266\\ 12.1 2.01398\\ 12.2 2.01167\\
12.3 2.01222\\ 12.4 2.01288\\ 12.5 2.01145\\ 12.6 2.01354\\ 12.7 2.01214\\ 12.8 2.01181\\ 12.9 2.01258\\ 13.0 2.01335\\ 13.1 2.01082\\ 13.2 2.01280\\
13.3 2.01203\\ 13.4 2.01313\\ 13.5 2.01126\\ 13.6 2.01236\\ 13.7 2.01379\\
-0.6 1.99081\\ -0.7 1.99249\\ -0.5 1.99280\\ -10.65 2.01505\\ -11.45 2.01458\\ -9.85 2.01445\\ 8.25 2.01489\\ 10.15 2.01461\\ 12.45 2.01496\\ 4.65 2.01391\\ 7.65 2.00860\\ 5.65 2.00907\\
-12.65 2.01287\\ -12.55 2.01199\\ -12.45 2.01308\\ -12.35 2.01098\\ -12.25 2.01252\\ -12.15 2.01328\\ -12.05 2.01151\\ -11.95 2.01228\\ -11.85 2.01359\\ -11.75 2.01171\\
-11.65 2.01270\\ -11.55 2.01214\\ -11.45 2.01312\\ -11.35 2.01125\\ -11.25 2.01289\\ -11.15 2.01057\\ -11.05 2.01254\\ -10.95 2.01331\\ -10.85 2.01176\\ -10.75 2.01230\\
-10.65 2.01153\\ -10.55 2.01339\\ -10.45 2.01195\\ -10.35 2.01271\\ -10.25 2.01128\\ -10.15 2.01292\\ -10.05 2.01093\\ -9.95 2.01235\\ -9.85 2.01310\\ -9.75 2.01176\\
-9.65 2.01273\\ -9.55 2.01238\\ -9.45 2.01148\\ -9.35 2.01289\\ -9.25 2.01177\\ -9.15 2.01329\\ -9.05 2.01096\\ -8.95 2.01204\\ -8.85 2.01257\\ -8.75 2.01145\\
-8.65 2.01066\\ -8.55 2.01240\\ -8.45 2.01184\\ -8.35 2.01105\\ -8.25 2.01334\\ -8.15 2.01145\\ -8.05 2.01275\\ -7.95 2.01108\\ -7.85 2.01193\\ -7.75 2.01026\\
-7.65 2.01243\\ -7.55 2.01153\\ -7.45 2.01205\\ -7.35 2.01071\\ -7.25 2.01266\\ -7.15 2.01132\\ -7.05 2.01096\\ -6.95 2.01324\\ -6.85 2.01034\\ -6.75 2.01173\\
-6.65 2.01203\\ -6.55 2.01056\\ -6.45 2.01140\\ -6.35 2.01246\\ -6.25 2.01077\\ -6.15 2.00986\\ -6.05 2.01169\\
-5.95 2.00999\\ -5.85 2.01157\\ -5.75 2.01227\\ -5.65 2.01066\\ -5.55 2.01004\\ -5.45 2.01162\\ -5.35 2.01023\\ -5.25 2.01061\\ -5.15 2.01175\\ -5.05 2.00948\\
-4.95 2.01063\\ -4.85 2.01100\\ -4.75 2.00851\\ -4.65 2.01064\\ -4.55 2.01113\\ -4.45 2.00948\\ -4.35 2.01000\\ -4.25 2.00887\\ -4.15 2.01104\\ -4.05 2.00914\\
-3.95 2.01008\\ -3.85 2.00902\\ -3.75 2.00774\\ -3.65 2.00933\\ -3.55 2.00893\\ -3.45 2.00774\\ -3.35 2.00927\\ -3.25 2.00750\\ -3.15 2.00860\\ -3.05 2.00617\\
-2.95 2.00718\\ -2.85 2.00746\\ -2.75 2.00543\\ -2.65 2.00765\\ -2.55 2.00531\\ -2.45 2.00551\\ -2.35 2.00377\\ -2.25 2.00515\\ -2.15 2.00280\\ -2.05 2.00298\\
-1.95 2.00315\\ -1.85 2.00003\\ -1.75 2.00133\\ -1.65 2.00034\\ -1.55 2.00067\\ -1.45 1.99842\\ -1.35 1.99999\\ -1.25 1.99770\\ -1.15 1.99798\\ -1.05 1.99576\\
-0.95 1.99636\\ -0.85 1.99649\\ -0.75 1.99441\\ -0.65 1.99507\\ -0.55 1.99299\\ -0.45 1.99528\\ -0.35 1.99407\\ -0.25 1.99526\\ -0.15 1.99399\\ -0.05 1.99730\\
0.05 1.99549\\ 0.15 1.99686\\ 0.25 1.99646\\ 0.35 1.99896\\ 0.45 1.99873\\ 0.55 1.99825\\ 0.65 2.00071\\ 0.75 2.00168\\ 0.85 2.00104\\ 0.95 2.00219\\
1.05 2.00173\\ 1.15 2.00464\\ 1.25 2.00367\\ 1.35 2.00498\\ 1.45 2.00428\\ 1.55 2.00652\\ 1.65 2.00432\\ 1.75 2.00664\\ 1.85 2.00741\\ 1.95 2.00683\\
2.05 2.00853\\ 2.15 2.00715\\ 2.25 2.00828\\ 2.35 2.00752\\ 2.45 2.01039\\ 2.55 2.00869\\ 2.65 2.00967\\ 2.75 2.01044\\ 2.85 2.00864\\ 2.95 2.01045\\
3.05 2.00973\\ 3.15 2.01098\\ 3.25 2.00904\\ 3.35 2.01071\\ 3.45 2.01160\\ 3.55 2.00997\\ 3.65 2.01085\\ 3.75 2.01227\\ 3.85 2.01049\\ 3.95 2.01158\\
4.05 2.01110\\ 4.15 2.01214\\ 4.25 2.01032\\ 4.35 2.01203\\ 4.45 2.00977\\ 4.55 2.01179\\ 4.65 2.01260\\ 4.75 2.01110\\ 4.85 2.01168\\ 4.95 2.01095\\
5.05 2.01252\\ 5.15 2.01134\\ 5.25 2.01169\\ 5.35 2.01073\\ 5.45 2.01317\\ 5.55 2.01111\\ 5.65 2.01201\\ 5.75 2.01259\\ 5.85 2.01019\\ 5.95 2.01231\\
6.05 2.01167\\ 6.15 2.01290\\ 6.25 2.01105\\ 6.35 2.01206\\ 6.45 2.01263\\ 6.55 2.01078\\ 6.65 2.01233\\ 6.75 2.01400\\ 6.85 2.01149\\ 6.95 2.01195\\
7.05 2.01296\\ 7.15 2.01131\\ 7.25 2.01253\\ 7.35 2.01177\\ 7.45 2.01321\\ 7.55 2.01113\\ 7.65 2.01213\\ 7.75 2.01268\\ 7.85 2.01148\\ 7.95 2.01347\\
8.05 2.01194\\ 8.15 2.01063\\ 8.25 2.01295\\ 8.35 2.01241\\ 8.45 2.01175\\ 8.55 2.01319\\ 8.65 2.01111\\ 8.75 2.01255\\ 8.85 2.01289\\ 8.95 2.01213\\
9.05 2.01137\\ 9.15 2.01391\\ 9.25 2.01194\\ 9.35 2.01272\\ 9.45 2.01162\\ 9.55 2.01350\\ 9.65 2.01241\\ 9.75 2.01099\\ 9.85 2.01320\\ 9.95 2.01211\\
10.05 2.01289\\ 10.15 2.01136\\ 10.25 2.01236\\ 10.35 2.01380\\ 10.45 2.01182\\ 10.55 2.01271\\ 10.65 2.01318\\ 10.75 2.01120\\ 10.85 2.01263\\ 10.95 2.01197\\
11.05 2.01351\\ 11.15 2.01164\\ 11.25 2.01307\\ 11.35 2.01230\\ 11.45 2.01395\\ 11.55 2.01153\\ 11.65 2.01288\\ 11.75 2.01211\\ 11.85 2.01343\\ 11.95 2.01101\\
12.05 2.01255\\ 12.15 2.01321\\ 12.25 2.01178\\ 12.35 2.01277\\ 12.45 2.01134\\ 12.55 2.01299\\ 12.65 2.01376\\ 12.75 2.01225\\ 12.85 2.01170\\ 12.95 2.01335\\
13.05 2.01203\\ 13.15 2.01247\\ 13.25 2.01368\\ 13.35 2.01148\\ 13.45 2.01269\\ 13.55 2.01313\\ 13.65 2.01071\\
};
\addplot[black, line width=0.6pt] coordinates {(-12.7,2.01258) (13.7,2.01258)};
\addplot[fitline] coordinates {(-12.7,2.01233) (-10,2.01214) (-8,2.01175) (-7,2.01150) (-6,2.01112) (-5.35,2.01067) (-4.5,2.01010) (-4,2.00940) (-3.5,2.00851) (-3,2.00737) (-2.7,2.00623) (-2.4,2.00483) (-2.1,2.00305) (-1.8,2.00127) (-1.5,1.99962) (-1.2,1.99771) (-1.0,1.99657) (-0.8,1.99529) (-0.6,1.99441) (-0.45,1.99409) (-0.3,1.99441) (-0.1,1.99517) (0.1,1.99618) (0.3,1.99758) (0.5,1.99911) (0.7,2.00051) (0.9,2.00165) (1.1,2.00292) (1.3,2.00406) (1.5,2.00508) (1.7,2.00597) (1.9,2.00686) (2.2,2.00800) (2.5,2.00902) (2.8,2.00966) (3.2,2.01029) (3.6,2.01080) (4,2.01118) (4.5,2.01144) (5,2.01163) (6,2.01188) (7,2.01207) (8.5,2.01220) (10.6,2.01239) (13.7,2.01248)};
\end{axis}
% ---------------- labels ----------------
\node[font=\fontsize{17.8}{20}\selectfont, rotate=90, anchor=center] at (21pt,298.5pt) {Intensity (*10\textsuperscript{6} counts)};
\node[font=\fontsize{17.8}{20}\selectfont, anchor=base] at (253.9pt,11.25pt) {Velocity (mm/s)};
\node[font=\fontsize{16.2}{19}\selectfont, anchor=base west] at (351.75pt,426.75pt) {Fresh};
\node[font=\fontsize{16.2}{19}\selectfont, anchor=base west] at (346.5pt,255pt) {CO treated};
\node[font=\fontsize{16.2}{19}\selectfont, anchor=base west] at (346.5pt,113.8pt) {HT treated};
\end{tikzpicture}
\end{document}
